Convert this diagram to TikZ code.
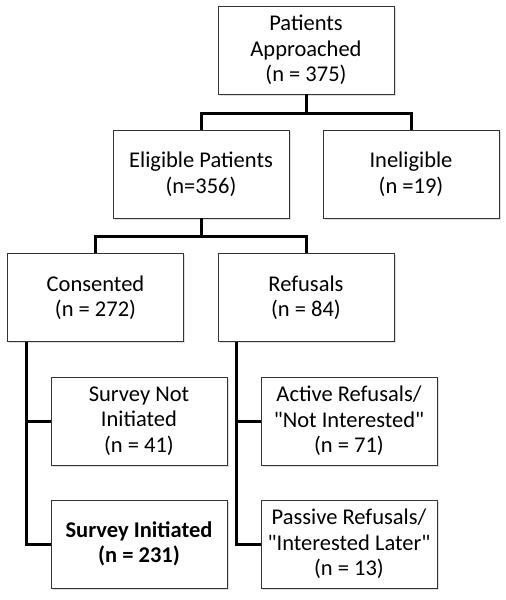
\documentclass[tikz,border=0pt]{standalone}
\usepackage{fontspec}
\setmainfont{Carlito}[Ligatures=TeXOff]
\usetikzlibrary{shadows}
\begin{document}
\begin{tikzpicture}[x=1pt,y=-1pt,
  box/.style={draw=black!80,line width=0.9pt,fill=white,minimum width=176pt,minimum height=88pt,
    align=center,inner sep=2pt,font=\fontsize{22.5}{25.5}\selectfont,
    drop shadow={opacity=0.25,shadow xshift=1.5pt,shadow yshift=-1.5pt}},
  conn/.style={line width=3pt}]
\useasboundingbox (0,0) rectangle (506,600);
\node[box] (pa) at (306,50) {Patients\\Approached\\(n = 375)};
\node[box] (el) at (201,174) {Eligible Patients\\(n=356)};
\node[box] (in) at (411,174) {Ineligible\\(n =19)};
\node[box] (co) at (95.5,297.5) {Consented\\(n = 272)};
\node[box] (re) at (306,297.5) {Refusals\\(n = 84)};
\node[box] (sn) at (139,421) {Survey Not\\Initiated\\(n = 41)};
\node[box] (ar) at (349,421) {Active Refusals/\\"Not Interested"\\(n = 71)};
\node[box,font=\fontsize{22.5}{25.5}\selectfont\bfseries] (si) at (139,544) {Survey Initiated\\(n = 231)};
\node[box] (pr) at (349,544) {Passive Refusals/\\"Interested Later"\\(n = 13)};
\coordinate (j1) at (306,113);
\coordinate (j2) at (201,236);
\coordinate (lc) at (26,342);
\coordinate (rc) at (236,342);
\draw[conn] (pa.south) -- (j1);
\draw[conn] (el.north) |- (j1) -| (in.north);
\draw[conn] (el.south) -- (j2);
\draw[conn] (co.north) |- (j2) -| (re.north);
\draw[conn] (lc) |- (si.west);
\draw[conn] (lc |- sn.west) -- (sn.west);
\draw[conn] (rc) |- (pr.west);
\draw[conn] (rc |- ar.west) -- (ar.west);
\end{tikzpicture}
\end{document}
